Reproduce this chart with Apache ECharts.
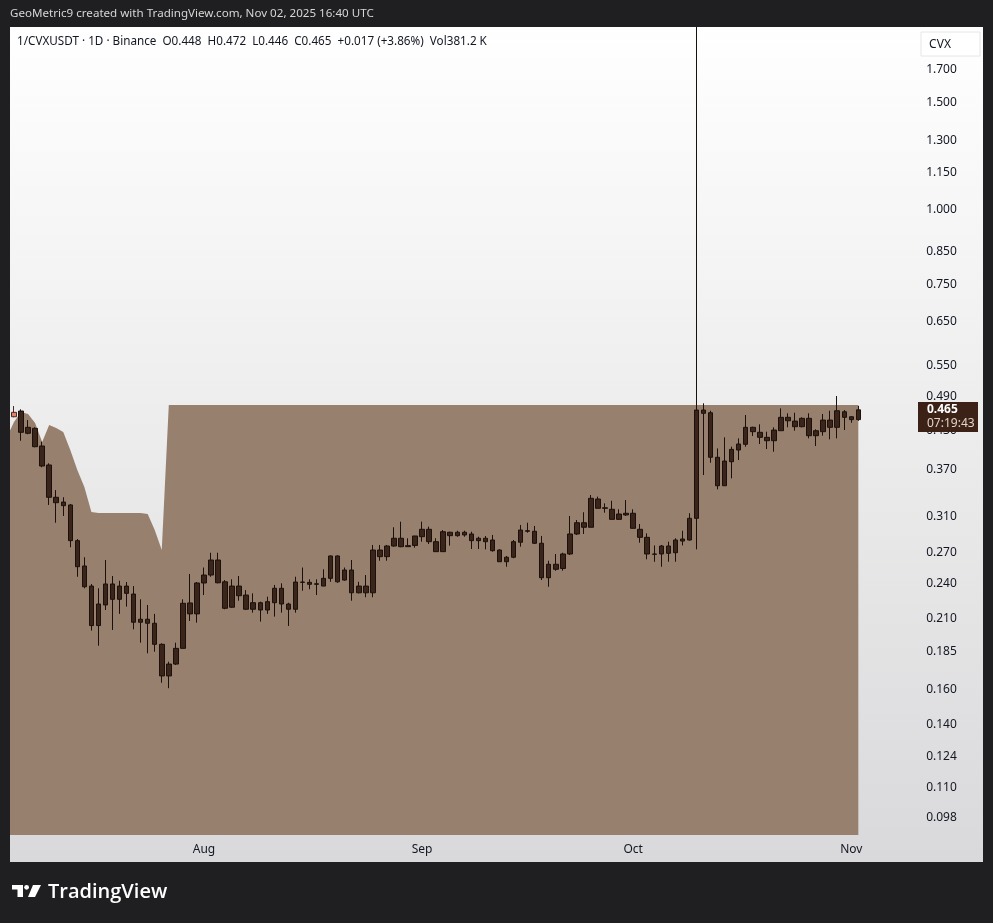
<!DOCTYPE html>
<html><head><meta charset="utf-8">
<script src="https://cdn.jsdelivr.net/npm/echarts@6/dist/echarts.min.js"></script>
<style>html,body{margin:0;padding:0;background:#1f1e21;}#c{width:993px;height:923px;}</style>
</head><body><div id="c"></div>
<script>
// ---- data ----
const startDate = '2025-07-04';   // first category (area only); candles start the next day
const categoryCount = 130;        // Jul 4 .. Nov 10 (right offset like TradingView)
const monthNames = ['Jan','Feb','Mar','Apr','May','Jun','Jul','Aug','Sep','Oct','Nov','Dec'];

// daily candles from 2025-07-05 to 2025-11-02
const opens = [0.4529,0.4629,0.4252,0.4333,0.4051,0.3768,0.3331,0.3271,0.3235,0.2823,
0.2563,0.2374,0.2042,0.2209,0.2393,0.2257,0.2374,0.2303,0.2068,0.2092,
0.2060,0.1901,0.1685,0.1763,0.1872,0.2226,0.2135,0.2402,0.2476,0.2622,
0.2413,0.2190,0.2374,0.2294,0.2173,0.2228,0.2167,0.2228,0.2354,0.2217,
0.2173,0.2411,0.2408,0.2390,0.2374,0.2445,0.2663,0.2429,0.2524,0.2314,
0.2374,0.2314,0.2724,0.2656,0.2766,0.2849,0.2759,0.2772,0.2866,0.2948,
0.2812,0.2707,0.2915,0.2877,0.2915,0.2896,0.2823,0.2849,0.2830,0.2724,
0.2605,0.2650,0.2806,0.2932,0.2926,0.2795,0.2451,0.2580,0.2539,0.2683,
0.2896,0.3023,0.2971,0.3309,0.3194,0.3182,0.3062,0.3114,0.3134,0.2948,
0.2859,0.2683,0.2683,0.2766,0.2696,0.2819,0.2830,0.3074,0.4646,0.4599,
0.3880,0.3481,0.3815,0.3989,0.4077,0.4350,0.4268,0.4187,0.4133,0.4294,
0.4519,0.4455,0.4360,0.4502,0.4213,0.4278,0.4472,0.4350,0.4616,0.4529,
0.448];
const highs = [0.4718,0.4659,0.4472,0.4350,0.4118,0.3792,0.3424,0.3331,0.3247,0.2841,
0.2650,0.2393,0.2354,0.2622,0.2467,0.2423,0.2411,0.2374,0.2257,0.2209,
0.2135,0.1908,0.1779,0.1913,0.2257,0.2486,0.2411,0.2548,0.2696,0.2696,
0.2429,0.2436,0.2467,0.2338,0.2309,0.2237,0.2280,0.2384,0.2399,0.2228,
0.2460,0.2548,0.2436,0.2436,0.2531,0.2668,0.2670,0.2548,0.2622,0.2413,
0.2476,0.2777,0.2777,0.2777,0.2971,0.3035,0.2849,0.2874,0.3035,0.2978,
0.2849,0.2940,0.2921,0.2932,0.2932,0.2921,0.2866,0.2874,0.2885,0.2731,
0.2663,0.2830,0.2997,0.3023,0.2986,0.2874,0.2615,0.2683,0.2696,0.3102,
0.3054,0.3146,0.3360,0.3339,0.3255,0.3287,0.3182,0.3296,0.3182,0.3008,
0.2903,0.2772,0.2777,0.2812,0.2849,0.2932,0.3134,2.6000,0.4767,0.4634,
0.4014,0.4187,0.4040,0.4171,0.4559,0.4360,0.4400,0.4278,0.4350,0.4676,
0.4589,0.4599,0.4519,0.4589,0.4317,0.4577,0.4634,0.4901,0.4646,0.4541,
0.472];
const lows = [0.4520,0.4133,0.4236,0.4031,0.3735,0.3235,0.3023,0.3102,0.2753,0.2460,
0.2354,0.2003,0.1891,0.2167,0.2008,0.2135,0.2195,0.2013,0.1913,0.1837,
0.1848,0.1642,0.1608,0.1757,0.1872,0.2078,0.2065,0.2294,0.2460,0.2399,
0.2173,0.2186,0.2245,0.2167,0.2145,0.2073,0.2135,0.2113,0.2145,0.2039,
0.2145,0.2332,0.2345,0.2294,0.2374,0.2413,0.2404,0.2423,0.2245,0.2309,
0.2275,0.2275,0.2615,0.2615,0.2759,0.2753,0.2759,0.2748,0.2812,0.2788,
0.2707,0.2707,0.2770,0.2866,0.2866,0.2735,0.2735,0.2731,0.2707,0.2605,
0.2556,0.2640,0.2759,0.2910,0.2788,0.2429,0.2368,0.2517,0.2517,0.2673,
0.2885,0.2896,0.2971,0.3194,0.3141,0.3062,0.3054,0.3102,0.2959,0.2801,
0.2629,0.2605,0.2556,0.2605,0.2605,0.2772,0.2823,0.2731,0.3626,0.3800,
0.3433,0.3481,0.3581,0.3839,0.4040,0.4208,0.4082,0.4004,0.3963,0.4294,
0.4350,0.4294,0.4350,0.4171,0.4051,0.4213,0.4155,0.4171,0.4305,0.4427,
0.446];
const closes = [0.4606,0.4268,0.4350,0.4040,0.3753,0.3331,0.3263,0.3226,0.2823,0.2556,
0.2368,0.2042,0.2217,0.2393,0.2257,0.2374,0.2309,0.2068,0.2092,0.2060,
0.1901,0.1685,0.1763,0.1872,0.2223,0.2135,0.2402,0.2476,0.2622,0.2404,
0.2181,0.2374,0.2288,0.2173,0.2228,0.2167,0.2237,0.2354,0.2217,0.2173,
0.2411,0.2408,0.2390,0.2395,0.2445,0.2663,0.2413,0.2524,0.2314,0.2374,
0.2314,0.2724,0.2656,0.2766,0.2849,0.2759,0.2770,0.2874,0.2948,0.2812,
0.2707,0.2921,0.2877,0.2915,0.2885,0.2823,0.2849,0.2812,0.2717,0.2605,
0.2650,0.2812,0.2940,0.2926,0.2795,0.2451,0.2580,0.2531,0.2683,0.2896,
0.3023,0.2971,0.3318,0.3194,0.3200,0.3062,0.3125,0.3134,0.2959,0.2859,
0.2683,0.2680,0.2766,0.2690,0.2830,0.2841,0.3074,0.4646,0.4589,0.3880,
0.3481,0.3825,0.3999,0.4082,0.4350,0.4278,0.4187,0.4133,0.4305,0.4519,
0.4460,0.4360,0.4502,0.4213,0.4294,0.4472,0.4350,0.4634,0.4519,0.4480,
0.465];
// shaded band top, daily from 2025-07-04 to 2025-11-02
const areaTop = [0.4192,0.4439,0.4611,0.4576,0.4422,0.4113,0.4389,0.4339,0.4273,0.3989,
0.3696,0.3464,0.3149,0.3137,0.3137,0.3137,0.3137,0.3137,0.3137,0.3137,
0.3125,0.2940,0.2724,0.4737,0.4737,0.4737,0.4737,0.4737,0.4737,0.4737,
0.4737,0.4737,0.4737,0.4737,0.4737,0.4737,0.4737,0.4737,0.4737,0.4737,
0.4737,0.4737,0.4737,0.4737,0.4737,0.4737,0.4737,0.4737,0.4737,0.4737,
0.4737,0.4737,0.4737,0.4737,0.4737,0.4737,0.4737,0.4737,0.4737,0.4737,
0.4737,0.4737,0.4737,0.4737,0.4737,0.4737,0.4737,0.4737,0.4737,0.4737,
0.4737,0.4737,0.4737,0.4737,0.4737,0.4737,0.4737,0.4737,0.4737,0.4737,
0.4737,0.4737,0.4737,0.4737,0.4737,0.4737,0.4737,0.4737,0.4737,0.4737,
0.4737,0.4737,0.4737,0.4737,0.4737,0.4737,0.4737,0.4737,0.4737,0.4737,
0.4737,0.4737,0.4737,0.4737,0.4737,0.4737,0.4737,0.4737,0.4737,0.4737,
0.4737,0.4737,0.4737,0.4737,0.4737,0.4737,0.4737,0.4737,0.4737,0.4737,
0.4737,0.4737];
const priceTicks = [1.7,1.5,1.3,1.15,1.0,0.85,0.75,0.65,0.55,0.49,0.43,0.37,0.31,0.27,0.24,0.21,0.185,0.16,0.14,0.124,0.11,0.098];
const headerText = 'GeoMetric9 created with TradingView.com, Nov 02, 2025 16:40 UTC';
const legendText = '1/CVXUSDT · 1D · Binance  O0.448  H0.472  L0.446  C0.465  +0.017 (+3.86%)  Vol381.2 K';
const lastPrice = '0.465';
const countdown = '07:19:43';

// ---- build ----
const dates = [];
{
  const d0 = new Date(startDate + 'T00:00:00Z');
  for (let k = 0; k < categoryCount; k++) {
    const d = new Date(d0.getTime() + k * 86400000);
    dates.push(d.toISOString().slice(0, 10));
  }
}
const candleData = [['-','-','-','-']];
opens.forEach((o, i) => {
  const item = { value: [o, closes[i], lows[i], highs[i]] };
  if (i === 0) item.itemStyle = { color: '#e2806c', color0: '#e2806c', borderColor: '#4a2a22', borderColor0: '#4a2a22' };
  candleData.push(item);
});

const FONT = '"Noto Sans", "Open Sans", sans-serif';
const chart = echarts.init(document.getElementById('c'), null, { renderer: 'canvas' });
chart.setOption({
  backgroundColor: '#1f1e21',
  animation: false,
  grid: { left: 3.446, right: 74.87, top: 27, bottom: 88, containLabel: false },
  xAxis: {
    type: 'category', data: dates, boundaryGap: true,
    axisLine: { show: false }, axisTick: { show: false }, splitLine: { show: false },
    axisLabel: {
      interval: (idx, val) => val.slice(8) === '01',
      formatter: v => monthNames[+v.slice(5, 7) - 1],
      color: '#131722', fontSize: 12, fontFamily: FONT, margin: 9
    }
  },
  yAxis: {
    type: 'log', logBase: 10, min: 0.09185, max: 2.0031, position: 'right',
    axisLine: { show: false }, axisTick: { show: false }, splitLine: { show: false },
    axisLabel: {
      customValues: priceTicks,
      formatter: v => Number(v).toFixed(3),
      color: '#131722', fontSize: 12, fontFamily: FONT, margin: 8
    }
  },
  series: [
    {
      type: 'line', data: areaTop, z: 1, showSymbol: false, silent: true,
      lineStyle: { width: 0 },
      areaStyle: { color: '#98806f', opacity: 1, origin: 'start' }
    },
    {
      type: 'candlestick', data: candleData, z: 2, barWidth: 5, clip: true,
      itemStyle: { color: '#3b2419', color0: '#3b2419', borderColor: '#1b100b', borderColor0: '#1b100b', borderWidth: 1 }
    }
  ],
  graphic: [
    { type: 'rect', z: -10, shape: { x: 10, y: 27, width: 973, height: 835 },
      style: { fill: new echarts.graphic.LinearGradient(0, 0, 0, 1, [{ offset: 0, color: '#ffffff' }, { offset: 1, color: '#d9d8da' }]) } },
    { type: 'rect', z: 100, shape: { x: 0, y: 20, width: 10, height: 850 }, style: { fill: '#1f1e21' } },
    { type: 'rect', z: 100, shape: { x: 0, y: 0, width: 993, height: 27 }, style: { fill: '#1f1e21' } },
    { type: 'text', z: 101, style: { text: headerText, x: 10, y: 14, fill: '#d6d6d6', font: '11.6px ' + FONT, verticalAlign: 'middle', textVerticalAlign: 'middle' } },
    { type: 'text', z: 100, style: { text: legendText, x: 17, y: 42, fill: '#131722', font: '11.7px ' + FONT, verticalAlign: 'middle', textVerticalAlign: 'middle' } },
    { type: 'rect', z: 100, shape: { x: 921, y: 32, width: 59, height: 24 }, style: { fill: '#ffffff', stroke: '#e6e6e6', lineWidth: 1 } },
    { type: 'text', z: 101, style: { text: 'CVX', x: 940, y: 45, fill: '#131722', font: '12px ' + FONT, align: 'center', verticalAlign: 'middle', textAlign: 'center', textVerticalAlign: 'middle' } },
    { type: 'rect', z: 100, shape: { x: 918, y: 402, width: 60, height: 30 }, style: { fill: '#3c2116' } },
    { type: 'text', z: 101, style: { text: lastPrice, x: 927, y: 410, fill: '#ffffff', font: 'bold 12px ' + FONT, verticalAlign: 'middle', textVerticalAlign: 'middle' } },
    { type: 'text', z: 101, style: { text: countdown, x: 927, y: 424, fill: '#e2d2ca', font: '12px ' + FONT, verticalAlign: 'middle', textVerticalAlign: 'middle' } },
    // TradingView logo
    { type: 'polygon', z: 100, shape: { points: [[12, 885], [23, 885], [23, 897], [17.5, 897], [17.5, 889.5], [12, 889.5]] }, style: { fill: '#ffffff' } },
    { type: 'circle', z: 100, shape: { cx: 26.6, cy: 887.3, r: 2.4 }, style: { fill: '#ffffff' } },
    { type: 'polygon', z: 100, shape: { points: [[33, 885], [41, 885], [35, 897], [28, 897]] }, style: { fill: '#ffffff' } },
    { type: 'text', z: 100, style: { text: 'TradingView', x: 48, y: 892, fill: '#ffffff', font: '600 20px "Open Sans", sans-serif', verticalAlign: 'middle', textVerticalAlign: 'middle' } }
  ]
});
</script></body></html>
